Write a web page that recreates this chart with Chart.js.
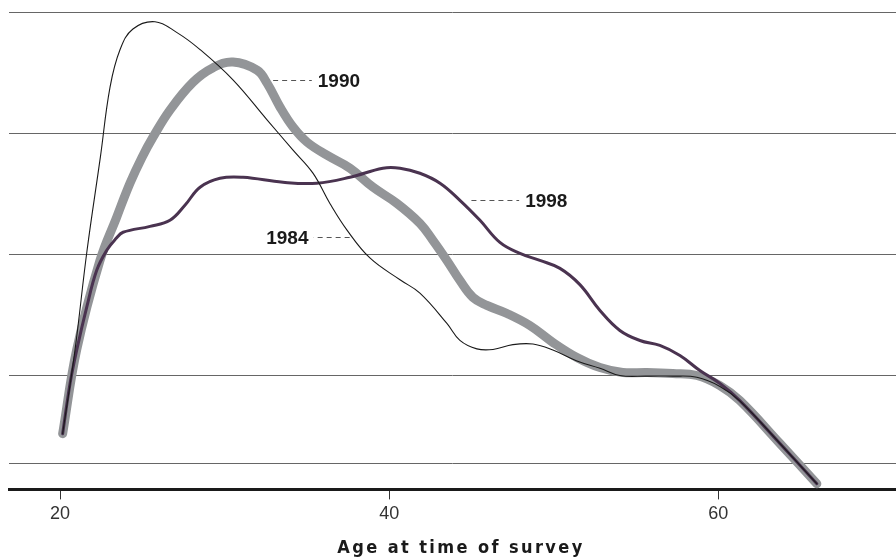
<!DOCTYPE html>
<html>
<head>
<meta charset="utf-8">
<script src="https://cdn.jsdelivr.net/npm/chart.js@4"></script>
<style>
  html, body { margin: 0; padding: 0; background: #fff; }
  #wrap { width: 896px; height: 557px; position: relative; }
</style>
</head>
<body>
<div id="wrap"><canvas id="chart"></canvas></div>
<script>
// age at time of survey / share
const ages1984 = [20.16, 20.91, 21.64, 22.45, 23.04, 23.65, 24.43, 25.77, 27.11, 28.51, 30.51, 32.58, 34.16, 35.37, 36.4, 37.44, 38.83, 40.66, 41.87, 43.51, 44.3, 45.33, 46.31, 47.52, 48.74, 49.95, 51.41, 52.81, 54.02, 55.66, 57.24, 58.7, 60.1, 61.31, 63.74, 65.99];
const vals1984 = [5.2, 12.1, 20.3, 28.0, 33.8, 36.9, 38.6, 39.2, 38.3, 36.9, 34.4, 31.1, 28.6, 26.7, 24.2, 22.0, 19.7, 17.9, 16.8, 14.3, 12.9, 12.2, 12.15, 12.55, 12.6, 12.1, 11.2, 10.6, 10.0, 9.95, 9.95, 9.85, 9.1, 7.9, 4.4, 1.07];

const ages1990 = [20.16, 21.01, 22.43, 23.44, 24.25, 24.98, 25.65, 26.68, 28.08, 29.3, 30.51, 31.97, 32.58, 33.37, 34.16, 35.01, 36.22, 37.62, 39.02, 40.47, 41.87, 42.66, 43.51, 44.3, 45.09, 45.94, 47.16, 48.55, 49.95, 51.41, 52.81, 54.2, 55.66, 57.24, 58.7, 60.1, 61.31, 63.74, 65.99];
const vals1990 = [5.2, 12.1, 19.5, 23.06, 25.87, 28.0, 29.67, 31.9, 34.2, 35.4, 35.87, 35.2, 34.13, 32.15, 30.5, 29.26, 28.18, 27.11, 25.54, 24.21, 22.56, 21.16, 19.5, 17.85, 16.45, 15.79, 15.12, 14.13, 12.73, 11.49, 10.66, 10.25, 10.25, 10.17, 10.0, 9.17, 7.93, 4.4, 1.07];

const ages1998 = [20.16, 20.61, 21.01, 21.62, 22.23, 22.84, 23.4, 23.83, 25.47, 26.68, 27.59, 28.51, 29.72, 31.12, 33.55, 35.61, 37.62, 39.62, 40.66, 41.87, 43.09, 44.3, 45.52, 46.73, 47.95, 49.16, 50.38, 51.59, 52.81, 54.02, 55.24, 56.45, 57.67, 58.88, 60.1, 61.31, 63.74, 65.99];
const vals1998 = [5.2, 9.34, 12.07, 15.62, 18.68, 20.33, 21.3, 21.82, 22.31, 22.81, 24.05, 25.54, 26.28, 26.36, 25.95, 25.87, 26.36, 27.11, 27.11, 26.69, 25.87, 24.46, 22.81, 20.99, 20.08, 19.5, 18.84, 17.5, 15.37, 13.72, 12.89, 12.48, 11.65, 10.41, 9.34, 7.93, 4.4, 1.07];

const xTicks = [20, 40, 60];
const yGrid = [2.7, 10, 20, 30, 40];

// series labels: year, leader from/to age, value
const noteYears = ['1990', '1998', '1984'];
const noteLeaderFrom = [32.95, 45.0, 37.6];
const noteLeaderTo = [35.3, 47.9, 35.4];
const noteValues = [34.4, 24.5, 21.4];

function pts(xs, ys) {
  return xs.map((x, i) => ({ x: x, y: ys[i] }));
}

const notesPlugin = {
  id: 'notes',
  afterDatasetsDraw(chart) {
    const ctx = chart.ctx;
    const xs = chart.scales.x, ys = chart.scales.y;
    ctx.save();
    noteYears.forEach((year, i) => {
      const x1 = xs.getPixelForValue(noteLeaderFrom[i]);
      const x2 = xs.getPixelForValue(noteLeaderTo[i]);
      const y = Math.round(ys.getPixelForValue(noteValues[i])) + 0.5;
      ctx.strokeStyle = '#555';
      ctx.lineWidth = 1;
      ctx.setLineDash([5, 4]);
      ctx.beginPath();
      ctx.moveTo(x1, y);
      ctx.lineTo(x2, y);
      ctx.stroke();
      ctx.setLineDash([]);
      ctx.fillStyle = '#1a1a1a';
      ctx.font = 'bold 19px "Liberation Sans", Arial, sans-serif';
      ctx.textBaseline = 'middle';
      if (x2 > x1) {
        ctx.textAlign = 'left';
        ctx.fillText(year, x2 + 6, y + 1);
      } else {
        ctx.textAlign = 'right';
        ctx.fillText(year, x2 - 5, y + 1);
      }
    });
    ctx.restore();
  },
  afterDraw(chart) {
    const ctx = chart.ctx;
    ctx.save();
    ctx.fillStyle = '#1a1a1a';
    ctx.font = 'bold 18px "Liberation Sans Narrow", "DejaVu Sans Condensed", sans-serif';
    ctx.letterSpacing = '2.4px';
    ctx.textAlign = 'center';
    ctx.textBaseline = 'middle';
    ctx.fillText('Age at time of survey', 461, 548);
    ctx.restore();
  }
};

new Chart(document.getElementById('chart'), {
  type: 'line',
  data: {
    datasets: [
      {
        label: '1984',
        data: pts(ages1984, vals1984),
        borderColor: '#1a1a1a',
        borderWidth: 1.1
      },
      {
        label: '1998',
        data: pts(ages1998, vals1998),
        borderColor: '#4a3350',
        borderWidth: 3
      },
      {
        label: '1990',
        data: pts(ages1990, vals1990),
        borderColor: '#939598',
        borderWidth: 9
      }
    ]
  },
  options: {
    responsive: true,
    maintainAspectRatio: false,
    animation: false,
    layout: { padding: { left: 9, right: 0, top: 12, bottom: 28 } },
    elements: {
      point: { radius: 0 },
      line: { tension: 0.4, borderCapStyle: 'round', borderJoinStyle: 'round', fill: false }
    },
    scales: {
      x: {
        type: 'linear',
        min: 16.9,
        max: 70.8,
        afterBuildTicks: axis => { axis.ticks = xTicks.map(v => ({ value: v })); },
        grid: { drawOnChartArea: false, drawTicks: true, tickLength: 10, color: '#333', lineWidth: 1 },
        border: { display: true, color: '#1a1a1a', width: 3 },
        ticks: {
          color: '#333',
          padding: 4,
          maxRotation: 0,
          font: { family: '"Liberation Sans", Arial, sans-serif', size: 18 }
        }
      },
      y: {
        type: 'linear',
        min: 0.6,
        max: 40,
        afterBuildTicks: axis => { axis.ticks = yGrid.map(v => ({ value: v })); },
        grid: { drawTicks: false, color: '#666', lineWidth: 1 },
        border: { display: false },
        ticks: { display: false }
      }
    },
    plugins: {
      legend: { display: false },
      tooltip: { enabled: false }
    }
  },
  plugins: [notesPlugin]
});
</script>
</body>
</html>
